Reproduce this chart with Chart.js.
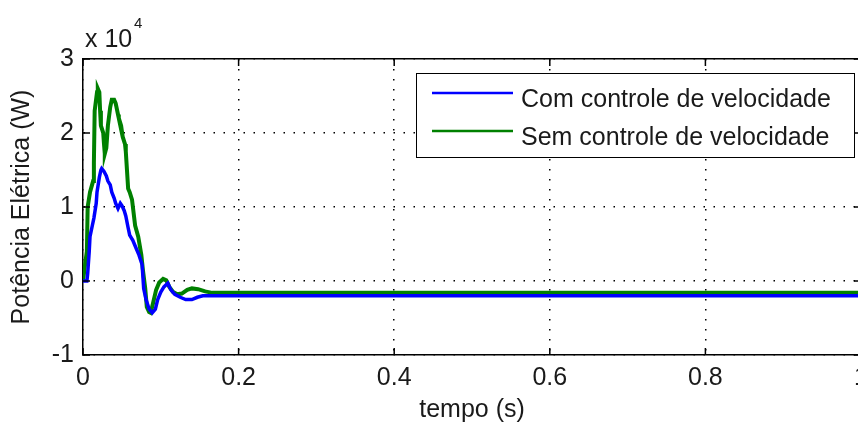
<!DOCTYPE html>
<html lang="pt">
<head>
<meta charset="UTF-8">
<title>Potência Elétrica</title>
<script src="https://cdn.jsdelivr.net/npm/chart.js"></script>
<style>
  html, body { margin: 0; padding: 0; background: #fff; overflow: hidden; }
  canvas { display: block; }
</style>
</head>
<body>
<canvas id="potChart" width="880" height="425"></canvas>
<script>
// ensaio com controle de velocidade: tempo (s) e potência (W)
const tempoCom = [0, 0.005, 0.006, 0.008, 0.009, 0.012, 0.014, 0.017, 0.018, 0.021, 0.023, 0.024,
  0.027, 0.030, 0.032, 0.035, 0.037, 0.040, 0.042, 0.045, 0.048, 0.050, 0.053, 0.055, 0.058,
  0.060, 0.064, 0.068, 0.072, 0.076, 0.078, 0.081, 0.085, 0.089, 0.093, 0.096, 0.100, 0.104,
  0.109, 0.113, 0.118, 0.125, 0.132, 0.140, 0.147, 0.154, 1.0];
const potCom = [0, 0, 1000, 4000, 6000, 7500, 8500, 10500, 12000, 14000, 15000, 15200,
  14800, 14200, 13500, 13000, 12000, 11200, 10500, 9800, 10500, 10200, 9500, 8800, 7200,
  6200, 5500, 4500, 3500, 2200, -1000, -2500, -3800, -4300, -3800, -2500, -1500, -800,
  -300, -1200, -1800, -2200, -2500, -2500, -2200, -2000, -2000];

// ensaio sem controle de velocidade
const tempoSem = [0, 0.001, 0.003, 0.005, 0.006, 0.009, 0.013, 0.014, 0.015, 0.018, 0.019, 0.021,
  0.022, 0.023, 0.026, 0.027, 0.028, 0.030, 0.032, 0.035, 0.037, 0.040, 0.042, 0.045, 0.046,
  0.049, 0.051, 0.054, 0.055, 0.058, 0.060, 0.063, 0.067, 0.071, 0.075, 0.077, 0.080, 0.082,
  0.085, 0.087, 0.090, 0.094, 0.098, 0.103, 0.107, 0.111, 0.116, 0.121, 0.127, 0.134, 0.140,
  0.148, 0.157, 0.166, 0.176, 1.0];
const potSem = [0, 0, 2500, 4000, 10000, 12000, 13500, 16000, 23000, 25500, 26000, 25500,
  23000, 21000, 20000, 18500, 17200, 18000, 21000, 23500, 24500, 24500, 24000, 22500, 22000,
  21000, 19500, 18500, 17500, 12500, 12000, 11000, 7500, 6000, 3500, 1500, -1000, -3500,
  -4200, -4300, -3000, -1200, -200, 300, 100, -800, -1500, -1800, -1700, -1200, -1000,
  -1100, -1400, -1600, -1600, -1600];

const legendas = ['Com controle de velocidade', 'Sem controle de velocidade'];
const cores = ['#0000ff', '#008000'];
const marcasTempo = [0, 0.2, 0.4, 0.6, 0.8, 1];
const marcasPot = [-10000, 0, 10000, 20000, 30000];

const fonte = '"Liberation Sans", Arial, sans-serif';
Chart.defaults.font.family = fonte;
Chart.defaults.color = '#1a1a1a';

function pontos(ts, ps) {
  return ts.map((t, i) => ({ x: t, y: ps[i] }));
}

// pequenos traços das marcas voltados para dentro, como no MATLAB
const tracosInternos = {
  id: 'tracosInternos',
  afterDatasetsDraw(chart) {
    const { ctx, chartArea: a, scales } = chart;
    ctx.save();
    ctx.strokeStyle = '#000';
    ctx.lineWidth = 1.5;
    ctx.beginPath();
    scales.x.ticks.forEach(t => {
      const px = scales.x.getPixelForValue(t.value);
      ctx.moveTo(px, a.bottom); ctx.lineTo(px, a.bottom - 7);
      ctx.moveTo(px, a.top); ctx.lineTo(px, a.top + 7);
    });
    scales.y.ticks.forEach(t => {
      const py = scales.y.getPixelForValue(t.value);
      ctx.moveTo(a.left, py); ctx.lineTo(a.left + 7, py);
      ctx.moveTo(a.right, py); ctx.lineTo(a.right - 7, py);
    });
    ctx.stroke();
    ctx.restore();
  }
};

// legenda em caixa e fator de escala "x 10^4"
const caixaLegenda = {
  id: 'caixaLegenda',
  afterDraw(chart) {
    const ctx = chart.ctx;
    ctx.save();
    ctx.fillStyle = '#fff';
    ctx.fillRect(416, 73, 438, 84);
    ctx.strokeStyle = '#000';
    ctx.lineWidth = 1;
    ctx.strokeRect(416.5, 73.5, 438, 84);
    ctx.font = '25px ' + fonte;
    ctx.textBaseline = 'alphabetic';
    chart.data.datasets.forEach((ds, i) => {
      const y = 93 + i * 38;
      ctx.strokeStyle = ds.borderColor;
      ctx.lineWidth = 2.5;
      ctx.beginPath();
      ctx.moveTo(432, y);
      ctx.lineTo(513, y);
      ctx.stroke();
      ctx.fillStyle = '#1a1a1a';
      ctx.fillText(ds.label, 521, y + 14);
    });

    ctx.fillStyle = '#1a1a1a';
    ctx.fillText('x 10', 85, 47);
    ctx.font = '15px ' + fonte;
    ctx.fillText('4', 134, 28);
    ctx.restore();
  }
};

new Chart(document.getElementById('potChart'), {
  type: 'line',
  data: {
    datasets: [
      {
        label: legendas[0],
        data: pontos(tempoCom, potCom),
        borderColor: cores[0],
        borderWidth: 3.5,
        pointRadius: 0,
        tension: 0
      },
      {
        label: legendas[1],
        data: pontos(tempoSem, potSem),
        borderColor: cores[1],
        borderWidth: 4,
        pointRadius: 0,
        tension: 0
      }
    ]
  },
  options: {
    responsive: false,
    animation: false,
    events: [],
    layout: { padding: { top: 59, right: 19, left: 0, bottom: 0 } },
    plugins: {
      legend: { display: false },
      tooltip: { enabled: false }
    },
    scales: {
      x: {
        type: 'linear',
        position: 'bottom',
        min: 0,
        max: 1,
        afterFit(s) { s.height = 70; },
        afterBuildTicks(s) { s.ticks = marcasTempo.map(v => ({ value: v })); },
        ticks: {
          padding: 8,
          maxRotation: 0,
          autoSkip: false,
          font: { size: 25 },
          callback: v => String(Number(v.toFixed(1)))
        },
        grid: { color: '#000', lineWidth: 1.5, drawTicks: false },
        border: { color: '#000', width: 1.5, dash: [1.5, 8.5] },
        title: {
          display: true,
          text: 'tempo (s)',
          font: { size: 25 },
          padding: { top: 0, bottom: 0 }
        }
      },
      xTopo: {
        type: 'linear',
        position: 'top',
        min: 0,
        max: 1,
        afterFit(s) { s.height = 0; },
        ticks: { display: false },
        grid: { display: false },
        border: { color: '#000', width: 1.5 }
      },
      y: {
        type: 'linear',
        min: -10000,
        max: 30000,
        afterFit(s) { s.width = 83; },
        afterBuildTicks(s) { s.ticks = marcasPot.map(v => ({ value: v })); },
        ticks: {
          padding: 9,
          font: { size: 25 },
          callback: v => String(v / 10000)
        },
        grid: { color: '#000', lineWidth: 1.5, drawTicks: false },
        border: { color: '#000', width: 1.5, dash: [1.5, 8.5] },
        title: {
          display: true,
          text: 'Potência Elétrica (W)',
          font: { size: 25 },
          padding: { top: 7, bottom: 0 }
        }
      }
    }
  },
  plugins: [tracosInternos, caixaLegenda]
});
</script>
</body>
</html>
